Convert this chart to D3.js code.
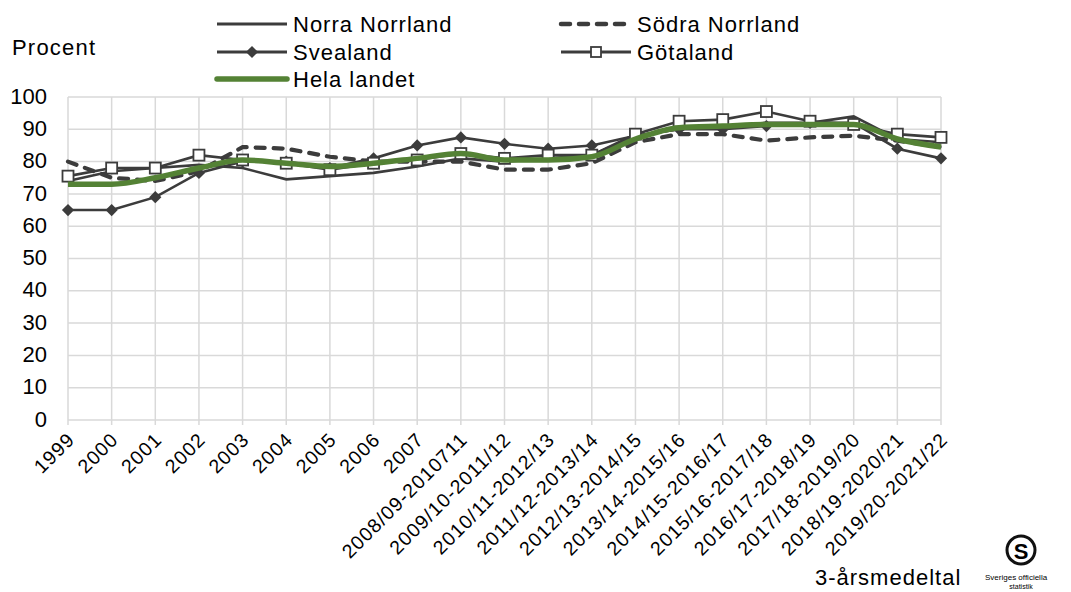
<!DOCTYPE html>
<html><head><meta charset="utf-8">
<script src="https://cdn.jsdelivr.net/npm/d3@7"></script>
<style>body{margin:0;background:#fff}svg{display:block;font-family:"Liberation Sans",Arial,sans-serif}</style>
</head><body><svg id="c" width="1071" height="592"></svg>
<script>
const categories = ["1999","2000","2001","2002","2003","2004","2005","2006","2007","2008/09-2010711","2009/10-2011/12","2010/11-2012/13","2011/12-2013/14","2012/13-2014/15","2013/14-2015/16","2014/15-2016/17","2015/16-2017/18","2016/17-2018/19","2017/18-2019/20","2018/19-2020/21","2019/20-2021/22"];
const norraNorrland = [74,77,78,79,78,74.5,75.5,76.5,78.5,81,80,81,82,88,90,91,92,92,94,87,86];
const sodraNorrland = [80,75,74,77,84.5,84,81.5,80,80,80,77.5,77.5,79.5,86,88.5,88.5,86.5,87.5,88,86.5,84.5];
const svealand = [65,65,69,76.5,80,80,78,81,85,87.5,85.5,84,85,88,90,90,91,92,92,84,81];
const gotaland = [75.5,78,78,82,80.5,79.5,77.5,79.5,80.5,82.5,81,82,82,88.5,92.5,93,95.5,92.5,91.5,88.5,87.5];
const helaLandet = [73,73,75,78,80.5,79.5,78.5,79.5,81,82.5,80.5,80.5,81.5,87,90.5,91,91.5,91.5,91.5,87,84.5];
const yTicks = [0,10,20,30,40,50,60,70,80,90,100];

const svg = d3.select("#c");
const x = d3.scalePoint().domain(categories).range([68,941]);
const y = d3.scaleLinear().domain([0,100]).range([420,97]);
const dark = "#3c3c3c", green = "#548235", grid = "#d9d9d9";

// grid
const g = svg.append("g");
g.selectAll("line.h").data(yTicks).join("line")
  .attr("x1",68).attr("x2",941).attr("y1",d=>y(d)).attr("y2",d=>y(d))
  .attr("stroke",grid).attr("stroke-width",1.5);
g.selectAll("line.v").data(categories).join("line")
  .attr("x1",d=>x(d)).attr("x2",d=>x(d)).attr("y1",y(100)).attr("y2",y(0)+5)
  .attr("stroke",grid).attr("stroke-width",1.5);

// y axis labels
svg.append("g").selectAll("text").data(yTicks).join("text")
  .attr("x",47).attr("y",d=>y(d)).attr("dy","0.3em").attr("text-anchor","end")
  .attr("font-size",22).attr("fill","#000").text(d=>d);

// x labels
svg.append("g").selectAll("text").data(categories).join("text")
  .attr("transform",d=>`translate(${x(d)+3},${y(0)+16}) rotate(-45)`)
  .attr("text-anchor","end").attr("dy","0.35em").attr("font-size",19.5).attr("letter-spacing",1.1)
  .attr("fill","#000").text(d=>d);

const line = d3.line().x((d,i)=>x(categories[i])).y(d=>y(d));
const line2 = d3.line().x((d,i)=>x(categories[i])).y(d=>y(d)).curve(d3.curveMonotoneX);

svg.append("path").attr("d",line(norraNorrland)).attr("fill","none").attr("stroke",dark).attr("stroke-width",2.6);
svg.append("path").attr("d",line(sodraNorrland)).attr("fill","none").attr("stroke",dark).attr("stroke-width",4.2)
  .attr("stroke-dasharray","9,9").attr("stroke-linecap","round");
svg.append("path").attr("d",line(svealand)).attr("fill","none").attr("stroke",dark).attr("stroke-width",2.6);
svg.append("path").attr("d",line(gotaland)).attr("fill","none").attr("stroke",dark).attr("stroke-width",2.6);

const diamond = d3.symbol().type(d3.symbolDiamond2).size(95);
svg.append("g").selectAll("path").data(svealand).join("path")
  .attr("transform",(d,i)=>`translate(${x(categories[i])},${y(d)})`).attr("d",diamond).attr("fill",dark);
svg.append("g").selectAll("rect").data(gotaland).join("rect")
  .attr("x",(d,i)=>x(categories[i])-5.5).attr("y",d=>y(d)-5.5).attr("width",11).attr("height",11)
  .attr("fill","#fff").attr("stroke",dark).attr("stroke-width",1.8);

svg.append("path").attr("d",line2(helaLandet)).attr("fill","none").attr("stroke",green).attr("stroke-width",5.5).attr("stroke-linejoin","round");

// legend
const L = svg.append("g").attr("font-size",22).attr("letter-spacing",1).attr("fill","#000");
function legLine(x0,yy,opts){
  L.append("line").attr("x1",x0).attr("x2",x0+70).attr("y1",yy).attr("y2",yy)
   .attr("stroke",opts.color||dark).attr("stroke-width",opts.w||3)
   .attr("stroke-dasharray",opts.dash||null).attr("stroke-linecap",opts.cap||"butt");
  if(opts.marker==="diamond") L.append("path").attr("transform",`translate(${x0+35},${yy})`).attr("d",diamond).attr("fill",dark);
  if(opts.marker==="square") L.append("rect").attr("x",x0+35-5).attr("y",yy-5).attr("width",10).attr("height",10).attr("fill","#fff").attr("stroke",dark).attr("stroke-width",1.8);
  L.append("text").attr("x",x0+76).attr("y",yy).attr("dy","0.358em").text(opts.label);
}
legLine(217,24,{label:"Norra Norrland"});
legLine(561,24,{label:"Södra Norrland",w:4.5,dash:"9,9",cap:"round"});
legLine(217,52,{label:"Svealand",marker:"diamond"});
legLine(561,52,{label:"Götaland",marker:"square"});
legLine(217,79,{label:"Hela landet",color:green,w:5.5,cap:"round"});

svg.append("text").attr("x",12).attr("y",47).attr("dy","0.358em").attr("font-size",22).attr("letter-spacing",1.2).text("Procent");
svg.append("text").attr("x",815).attr("y",577).attr("dy","0.358em").attr("font-size",22).attr("letter-spacing",1).text("3-årsmedeltal");

// logo
const lg = svg.append("g");
lg.append("circle").attr("cx",1021).attr("cy",550).attr("r",14).attr("fill","none").attr("stroke","#111").attr("stroke-width",3);
lg.append("text").attr("x",1021).attr("y",551).attr("dy","0.36em").attr("text-anchor","middle").attr("font-size",22).attr("font-weight","bold").text("S");
lg.append("text").attr("x",985).attr("y",580).attr("font-size",8).text("Sveriges officiella");
lg.append("text").attr("x",1021).attr("y",589).attr("text-anchor","middle").attr("font-size",7).text("statistik");
</script></body></html>
